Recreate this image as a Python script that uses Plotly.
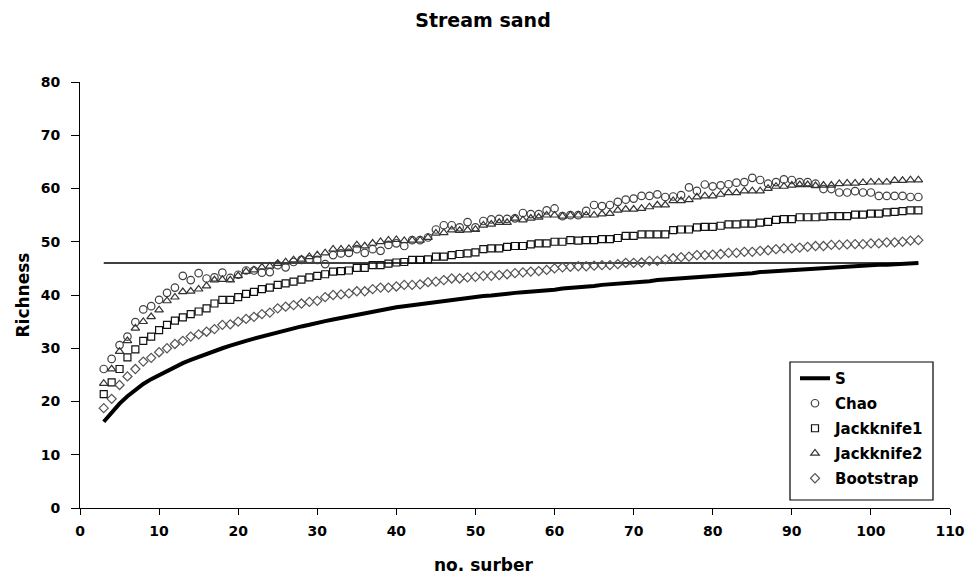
import plotly.graph_objects as go

# sample number (no. surber)
sample_no = list(range(3, 107))

S = [16.2, 18.0, 19.6, 21.0, 22.2, 23.3, 24.2, 25.0, 25.8, 26.5, 27.2, 27.8, 28.4, 29.0, 29.5, 30.0, 30.5, 31.0,
     31.4, 31.8, 32.2, 32.6, 33.0, 33.4, 33.8, 34.1, 34.4, 34.8, 35.1, 35.4, 35.7, 36.0, 36.3, 36.6, 36.9, 37.2,
     37.4, 37.7, 37.9, 38.1, 38.3, 38.5, 38.7, 38.9, 39.1, 39.3, 39.5, 39.6, 39.8, 39.9, 40.1, 40.2, 40.4, 40.5,
     40.6, 40.8, 40.9, 41.0, 41.2, 41.3, 41.4, 41.6, 41.7, 41.9, 42.0, 42.1, 42.3, 42.4, 42.5, 42.6, 42.8, 42.9,
     43.0, 43.1, 43.3, 43.4, 43.5, 43.6, 43.7, 43.8, 43.9, 44.0, 44.1, 44.3, 44.4, 44.5, 44.6, 44.7, 44.8, 44.9,
     45.0, 45.1, 45.2, 45.2, 45.3, 45.4, 45.5, 45.6, 45.7, 45.7, 45.8, 45.9, 46.0, 46.0]

chao = [26.1, 28.0, 30.6, 32.2, 34.9, 37.3, 37.9, 39.1, 40.4, 41.4, 43.6, 42.8, 44.1, 43.1, 43.3, 44.2, 43.2, 43.8, 44.6, 44.6, 44.2, 44.3,
        45.6, 45.2, 46.2, 46.6, 46.7, 46.6, 45.8, 47.5, 47.8, 47.9, 48.6, 47.9, 48.6, 48.3, 49.4, 49.7, 49.2, 50.3, 50.3, 50.8, 52.3, 53.1,
        53.1, 52.7, 53.7, 52.7, 53.9, 54.2, 54.3, 54.3, 54.4, 55.4, 55.2, 55.2, 55.9, 56.25, 54.8, 55.0, 55.0, 55.8, 56.9, 56.7, 56.9, 57.5,
        57.9, 58.1, 58.6, 58.6, 58.9, 58.4, 58.5, 58.75, 60.2, 59.55, 60.75, 60.4, 60.6, 60.8, 61.1, 61.2, 62.0, 61.6, 60.9, 61.2, 61.7, 61.6,
        61.2, 61.2, 60.9, 59.9, 59.9, 59.25, 59.25, 59.5, 59.25, 59.25, 58.6, 58.6, 58.6, 58.6, 58.4, 58.4]

jack1 = [21.4, 23.6, 26.1, 28.3, 29.8, 31.4, 32.2, 33.4, 34.4, 35.2, 35.8, 36.4, 36.9, 37.5, 38.4, 39.1, 39.1, 39.6, 40.2, 40.6, 41.1, 41.4,
         41.9, 42.2, 42.5, 42.9, 43.3, 43.6, 43.9, 44.4, 44.5, 44.6, 45.1, 45.1, 45.6, 45.6, 45.9, 46.1, 46.2, 46.6, 46.6, 46.7, 47.2, 47.2,
         47.5, 47.7, 47.8, 48.0, 48.6, 48.75, 48.75, 49.05, 49.2, 49.2, 49.5, 49.7, 49.7, 50.0, 50.0, 50.3, 50.2, 50.3, 50.3, 50.5, 50.5, 50.7,
         51.1, 51.1, 51.4, 51.4, 51.4, 51.4, 52.2, 52.3, 52.3, 52.7, 52.8, 52.8, 53.0, 53.25, 53.25, 53.4, 53.4, 53.6, 53.75, 54.1, 54.25, 54.25,
         54.6, 54.6, 54.6, 54.7, 54.8, 54.8, 54.8, 55.1, 55.1, 55.3, 55.3, 55.5, 55.6, 55.75, 55.9, 55.9]

jack2 = [23.4, 26.1, 29.4, 31.4, 33.75, 35.0, 35.9, 37.2, 38.9, 39.6, 40.6, 40.7, 41.1, 41.7, 42.8, 42.9, 42.8, 43.6, 44.4, 44.7, 45.2, 45.4,
         45.9, 46.2, 46.6, 46.7, 47.2, 47.5, 47.9, 48.6, 48.6, 48.7, 49.4, 49.2, 49.7, 50.0, 50.3, 50.4, 50.2, 50.3, 50.3, 50.8, 51.6, 51.7,
         52.2, 52.1, 52.2, 52.3, 53.1, 53.3, 53.6, 53.6, 54.4, 54.1, 54.4, 54.6, 55.0, 55.0, 54.8, 55.0, 55.0, 55.0, 55.0, 55.2, 55.3, 55.9,
         56.1, 56.1, 56.25, 56.55, 56.9, 56.9, 57.7, 57.7, 57.9, 58.4, 58.6, 58.6, 58.9, 59.2, 59.2, 59.55, 59.55, 59.55, 60.0, 60.4, 60.4, 60.6,
         60.7, 60.7, 60.5, 60.6, 60.6, 60.9, 61.0, 61.0, 61.1, 61.2, 61.2, 61.2, 61.5, 61.5, 61.6, 61.6]

boot = [18.75, 20.5, 23.1, 24.7, 26.1, 27.5, 28.2, 29.25, 30.0, 30.8, 31.4, 32.2, 32.6, 33.1, 33.6, 34.4, 34.5, 35.0, 35.5, 35.9, 36.4, 36.7,
        37.5, 37.8, 38.1, 38.4, 38.7, 38.9, 39.6, 40.0, 40.1, 40.3, 40.7, 40.7, 41.1, 41.4, 41.4, 41.6, 41.9, 41.9, 42.0, 42.4, 42.5, 42.8,
        43.1, 43.1, 43.3, 43.4, 43.6, 43.6, 43.75, 43.9, 44.1, 44.25, 44.4, 44.5, 44.7, 45.0, 45.2, 45.3, 45.4, 45.4, 45.5, 45.6, 45.6, 45.8,
        46.05, 46.05, 46.1, 46.4, 46.4, 46.7, 46.9, 47.1, 47.2, 47.5, 47.5, 47.6, 47.7, 47.9, 47.9, 48.1, 48.1, 48.3, 48.4, 48.6, 48.75, 48.75,
        48.9, 49.05, 49.2, 49.2, 49.4, 49.4, 49.5, 49.55, 49.55, 49.7, 49.7, 49.9, 49.9, 50.0, 50.2, 50.3]

observed_total = 46  # horizontal reference level

x_ticks = [0, 10, 20, 30, 40, 50, 60, 70, 80, 90, 100, 110]
y_ticks = [0, 10, 20, 30, 40, 50, 60, 70, 80]

FONT = "DejaVu Sans"

# plot-area geometry (px) used for placing the legend box and titles
L, R, T, B = 80, 16, 82, 72
PW = 966 - L - R
PH = 580 - T - B


def px_x(p):
    return (p - L) / PW


def px_y(p):
    return (580 - B - p) / PH


fig = go.Figure()

fig.add_trace(go.Scatter(x=[sample_no[0], sample_no[-1]], y=[observed_total, observed_total], mode="lines",
                         line=dict(color="black", width=1.5), showlegend=False, hoverinfo="skip"))

fig.add_trace(go.Scatter(x=sample_no, y=S, mode="lines", name="S", legendgroup="a",
                         line=dict(color="black", width=4)))

marker_specs = [
    ("Chao", chao, "circle-open", 7.5, "#404040", "b"),
    ("Jackknife1", jack1, "square-open", 7, "#111111", "c"),
    ("Jackknife2", jack2, "triangle-up-open", 7.5, "#333333", "d"),
    ("Bootstrap", boot, "diamond-open", 7, "#555555", "e"),
]
for name, vals, sym, sz, col, grp in marker_specs:
    fig.add_trace(go.Scatter(x=sample_no, y=vals, mode="markers", name=name, legendgroup=grp,
                             marker=dict(symbol=sym, size=sz, color=col, line=dict(width=1.2, color=col))))

fig.update_layout(
    width=966, height=580,
    margin=dict(l=L, r=R, t=T, b=B, autoexpand=False),
    paper_bgcolor="white", plot_bgcolor="white",
    font=dict(family=FONT, color="black", size=14, weight="bold"),
    title=dict(text="Stream sand", x=0.5, xref="container", xanchor="center",
               y=1 - 20 / 580, yref="container", yanchor="middle",
               font=dict(family=FONT, size=19, weight="bold", color="black")),
    showlegend=True,
    legend=dict(x=px_x(795), y=px_y(362), xanchor="left", yanchor="top",
                bgcolor="rgba(0,0,0,0)", borderwidth=0,
                font=dict(family=FONT, size=15, weight="bold", color="black"),
                tracegroupgap=2.5, traceorder="grouped"),
    shapes=[dict(type="rect", xref="paper", yref="paper", x0=px_x(790), x1=px_x(933),
                 y0=px_y(500), y1=px_y(362), line=dict(color="black", width=1.2),
                 fillcolor="white", layer="above")],
    xaxis=dict(range=[0, 110], tickvals=x_ticks, ticktext=[str(v) for v in x_ticks],
               showgrid=False, zeroline=False, showline=True, linecolor="black", linewidth=1,
               ticks="outside", ticklen=6, tickcolor="black", tickwidth=1,
               tickfont=dict(family=FONT, size=14, weight="bold"), ticklabelstandoff=4),
    yaxis=dict(range=[0, 80], tickvals=y_ticks, ticktext=[str(v) for v in y_ticks],
               showgrid=False, zeroline=False, showline=True, linecolor="black", linewidth=1,
               ticks="outside", ticklen=8, tickcolor="black", tickwidth=1,
               tickfont=dict(family=FONT, size=14, weight="bold"), ticklabelstandoff=8),
    annotations=[
        dict(text="no. surber", xref="paper", yref="paper", x=px_x(483), y=px_y(565),
             xanchor="center", yanchor="middle", showarrow=False,
             font=dict(family=FONT, size=17, weight="bold", color="black")),
        dict(text="Richness", xref="paper", yref="paper", x=px_x(22.5), y=0.5, textangle=-90,
             xanchor="center", yanchor="middle", showarrow=False,
             font=dict(family=FONT, size=17, weight="bold", color="black")),
    ],
)

fig.write_html("out.html")
